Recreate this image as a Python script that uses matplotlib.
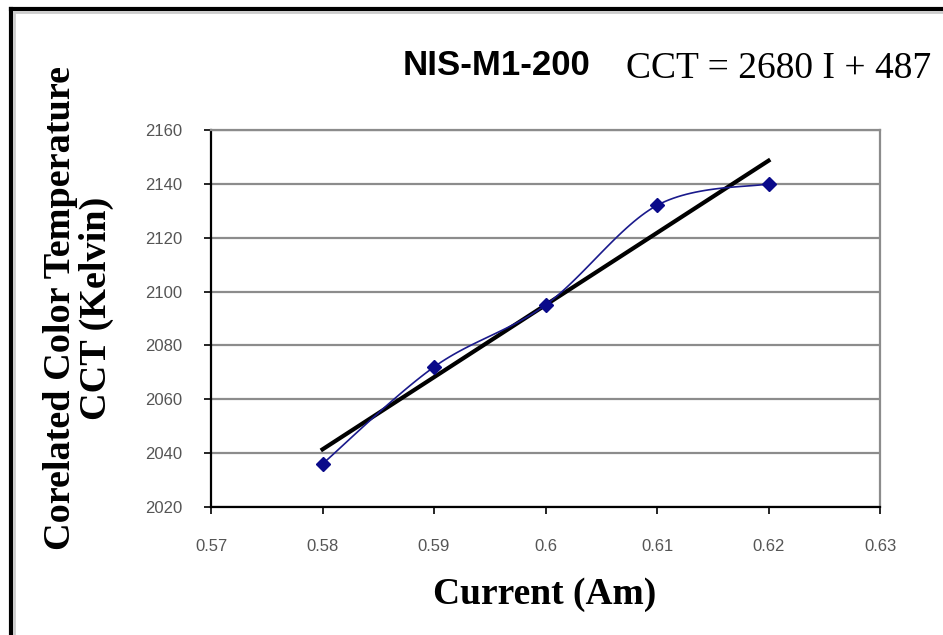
import numpy as np
import matplotlib
matplotlib.use("Agg")
import matplotlib.pyplot as plt
from matplotlib.lines import Line2D

# valores
corriente = [0.58, 0.59, 0.60, 0.61, 0.62]
cct = [2036, 2072, 2095, 2132, 2140]
pendiente = 2680
intercepto = 487
xticks = [0.57, 0.58, 0.59, 0.60, 0.61, 0.62, 0.63]
xtick_labels = ["0.57", "0.58", "0.59", "0.6", "0.61", "0.62", "0.63"]
yticks = [2020, 2040, 2060, 2080, 2100, 2120, 2140, 2160]


def suavizar(x, y, n=30):
    # curva tipo Catmull-Rom (como el "smoothed line" de Excel)
    x = np.asarray(x, float)
    y = np.asarray(y, float)
    px = np.concatenate([[x[0]], x, [x[-1]]])
    py = np.concatenate([[y[0]], y, [y[-1]]])
    xs, ys = [], []
    t = np.linspace(0, 1, n)
    for i in range(1, len(px) - 2):
        p0, p1, p2, p3 = [np.array([px[j], py[j]]) for j in (i - 1, i, i + 1, i + 2)]
        c1 = p1 + (p2 - p0) / 6
        c2 = p2 - (p3 - p1) / 6
        pts = ((1 - t)[:, None] ** 3 * p1 + 3 * ((1 - t) ** 2 * t)[:, None] * c1
               + 3 * ((1 - t) * t ** 2)[:, None] * c2 + (t ** 3)[:, None] * p2)
        xs.extend(pts[:, 0])
        ys.extend(pts[:, 1])
    return np.array(xs), np.array(ys)


fig = plt.figure(figsize=(9.43, 6.35), dpi=100)
ax = fig.add_axes([0.2238, 0.2016, 0.7094, 0.5937])

ax.set_xlim(0.57, 0.63)
ax.set_ylim(2020, 2160)
ax.set_xticks(xticks)
ax.set_xticklabels(xtick_labels)
ax.set_yticks(yticks)
ax.yaxis.grid(True, color="#8c8c8c", linewidth=1.6)
ax.set_axisbelow(True)

for s in ["top", "right"]:
    ax.spines[s].set_color("#8c8c8c")
    ax.spines[s].set_linewidth(1.6)
for s in ["left", "bottom"]:
    ax.spines[s].set_color("black")
    ax.spines[s].set_linewidth(1.6)

ax.tick_params(axis="both", direction="out", length=5, width=1.2,
               labelsize=12, labelcolor="#555555")
ax.tick_params(axis="x", pad=18)
ax.tick_params(axis="y", pad=16)
for lab in ax.get_xticklabels() + ax.get_yticklabels():
    lab.set_family("Liberation Sans")

# línea de tendencia
xt = np.array([corriente[0], corriente[-1]])
ax.plot(xt, pendiente * xt + intercepto, color="black", lw=3, zorder=3)

# datos suavizados
sx, sy = suavizar(corriente, cct)
ax.plot(sx, sy, color="#1a1a8c", lw=1.2, zorder=4)
ax.plot(corriente, cct, linestyle="none", marker="D", color="#0a0a8a",
        markersize=7, zorder=5)

fig.text(0.527, 0.897, "NIS-M1-200", ha="center", va="center",
         fontsize=25, fontweight="bold", family="Liberation Sans")
fig.text(0.826, 0.892, "CCT = 2680 I + 487", ha="center", va="center",
         fontsize=27, family="Liberation Serif")
fig.text(0.578, 0.064, "Current (Am)", ha="center", va="center",
         fontsize=27, fontweight="bold", family="Liberation Serif")
fig.text(0.083, 0.515, "Corelated Color Temperature\nCCT (Kelvin)",
         ha="center", va="center", rotation=90, fontsize=27.5,
         fontweight="bold", family="Liberation Serif", linespacing=1.05)

# marco exterior
fig.add_artist(Line2D([11 / 943, 11 / 943], [0, 1 - 9 / 635],
                      transform=fig.transFigure, color="black", lw=3))
fig.add_artist(Line2D([11 / 943, 1], [1 - 9 / 635, 1 - 9 / 635],
                      transform=fig.transFigure, color="black", lw=3))
fig.add_artist(Line2D([14 / 943, 14 / 943], [0, 1 - 12 / 635],
                      transform=fig.transFigure, color="#cccccc", lw=2))
fig.add_artist(Line2D([14 / 943, 1], [1 - 12 / 635, 1 - 12 / 635],
                      transform=fig.transFigure, color="#cccccc", lw=2))

fig.savefig("out.png", dpi=100)
